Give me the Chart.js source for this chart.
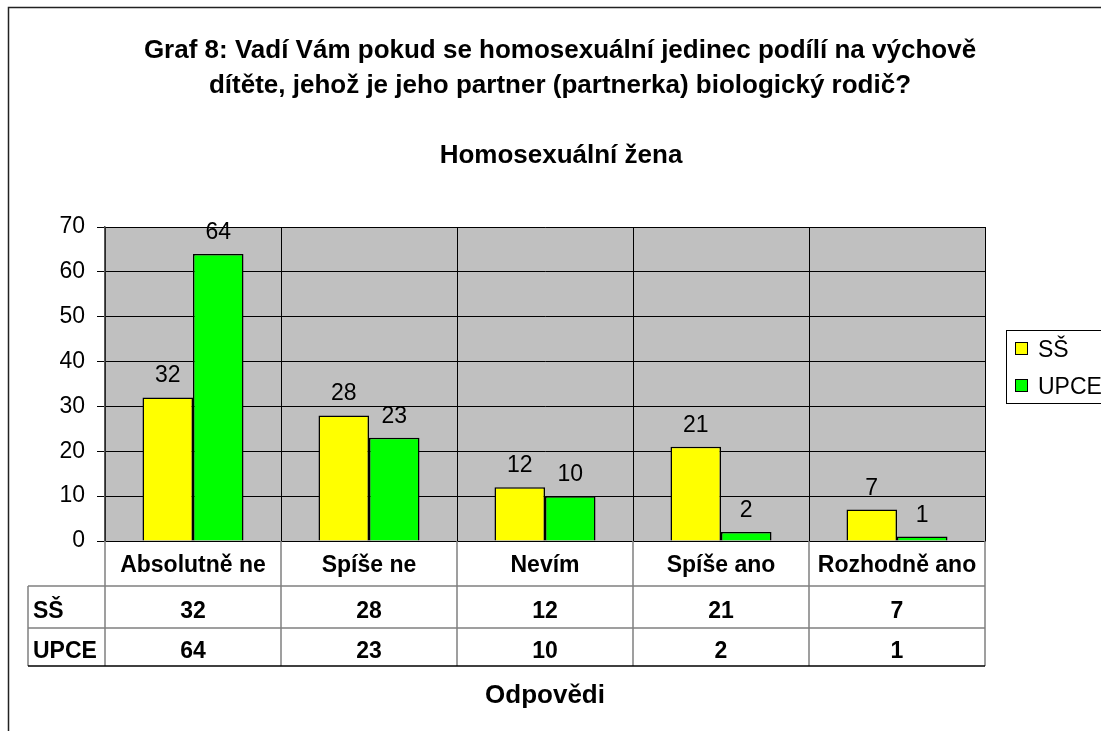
<!DOCTYPE html>
<html>
<head>
<meta charset="utf-8">
<script src="https://cdn.jsdelivr.net/npm/chart.js@4.4.1/dist/chart.umd.min.js"></script>
<style>
  html, body { margin: 0; padding: 0; background: #fff; }
  canvas { display: block; }
</style>
</head>
<body>
<canvas id="c" width="1101" height="731"></canvas>
<script>
const titleLines = ["Graf 8: Vadí Vám pokud se homosexuální jedinec podílí na výchově", "dítěte, jehož je jeho partner (partnerka) biologický rodič?"];
const subtitle = "Homosexuální žena";
const axisTitle = "Odpovědi";
const categories = ["Absolutně ne", "Spíše ne", "Nevím", "Spíše ano", "Rozhodně ano"];
const seriesNames = ["SŠ", "UPCE"];
const valuesSS = [32, 28, 12, 21, 7];
const valuesUPCE = [64, 23, 10, 2, 1];
const yTicks = [0, 10, 20, 30, 40, 50, 60, 70];

const FONT = "'Liberation Sans', Arial, Helvetica, sans-serif";
const colors = ["#ffff00", "#00ff00"];

const PLOT = { left: 105, top: 227, right: 985, bottom: 541 };
const TABLE = { left: 28, row1: 586, row2: 628, bottom: 666 };

const decorPlugin = {
  id: 'decor',
  beforeDraw(chart) {
    const ctx = chart.ctx;
    const ca = chart.chartArea;
    ctx.save();
    ctx.fillStyle = '#ffffff';
    ctx.fillRect(0, 0, chart.width, chart.height);
    // outer chart border
    ctx.strokeStyle = '#222';
    ctx.lineWidth = 1.5;
    ctx.strokeRect(8.5, 7.5, 1200, 800);
    // plot background
    ctx.fillStyle = '#c0c0c0';
    ctx.fillRect(ca.left, ca.top, ca.right - ca.left, ca.bottom - ca.top);
    ctx.restore();
  },
  afterDraw(chart) {
    const ctx = chart.ctx;
    const ca = chart.chartArea;
    const xs = chart.scales.x;
    ctx.save();
    ctx.fillStyle = '#000';
    // titles
    ctx.textAlign = 'center';
    ctx.textBaseline = 'alphabetic';
    ctx.font = 'bold 26px ' + FONT;
    ctx.fillText(titleLines[0], 560, 58);
    ctx.fillText(titleLines[1], 560, 93);
    ctx.fillText(subtitle, 561, 163);
    ctx.fillText(axisTitle, (ca.left + ca.right) / 2, 703);

    // data labels
    ctx.font = '23px ' + FONT;
    chart.data.datasets.forEach((ds, i) => {
      const meta = chart.getDatasetMeta(i);
      meta.data.forEach((bar, j) => {
        ctx.fillText(String(ds.data[j]), bar.x, bar.y - 15);
      });
    });

    // data table
    const n = categories.length;
    const bounds = [];
    for (let i = 0; i <= n; i++) {
      bounds.push(ca.left + (ca.right - ca.left) * i / n);
    }
    ctx.strokeStyle = '#808080';
    ctx.lineWidth = 1.5;
    ctx.beginPath();
    // horizontal lines
    ctx.moveTo(TABLE.left, TABLE.row1); ctx.lineTo(ca.right, TABLE.row1);
    ctx.moveTo(TABLE.left, TABLE.row2); ctx.lineTo(ca.right, TABLE.row2);
    // left edge of header column
    ctx.moveTo(TABLE.left, TABLE.row1); ctx.lineTo(TABLE.left, TABLE.bottom);
    // vertical lines through table
    bounds.forEach(b => { ctx.moveTo(b, ca.bottom); ctx.lineTo(b, TABLE.bottom); });
    ctx.stroke();
    ctx.strokeStyle = '#000';
    ctx.beginPath();
    ctx.moveTo(TABLE.left, TABLE.bottom); ctx.lineTo(ca.right, TABLE.bottom);
    ctx.stroke();

    ctx.font = 'bold 23px ' + FONT;
    ctx.textAlign = 'center';
    categories.forEach((c, i) => {
      const x = xs.getPixelForValue(i);
      ctx.fillText(c, x, 572);
      ctx.fillText(String(valuesSS[i]), x, 618);
      ctx.fillText(String(valuesUPCE[i]), x, 658);
    });
    ctx.textAlign = 'left';
    ctx.fillText(seriesNames[0], 33, 618);
    ctx.fillText(seriesNames[1], 33, 658);

    // legend
    ctx.strokeStyle = '#000';
    ctx.lineWidth = 1;
    ctx.fillStyle = '#fff';
    ctx.fillRect(1006, 330, 200, 73);
    ctx.strokeRect(1006.5, 330.5, 200, 73);
    const legY = [348.5, 385.5];
    ctx.font = '23px ' + FONT;
    seriesNames.forEach((s, i) => {
      ctx.fillStyle = colors[i];
      ctx.fillRect(1015, legY[i] - 6.5, 13, 13);
      ctx.strokeStyle = '#000';
      ctx.strokeRect(1015.5, legY[i] - 6, 12, 12);
      ctx.fillStyle = '#000';
      ctx.textAlign = 'left';
      ctx.fillText(s, 1038, legY[i] + 8);
    });
    ctx.restore();
  }
};

new Chart(document.getElementById('c'), {
  type: 'bar',
  data: {
    labels: categories,
    datasets: [
      { label: seriesNames[0], data: valuesSS, backgroundColor: colors[0], borderColor: '#000', borderWidth: 1.5,
        categoryPercentage: 0.574, barPercentage: 1.0 },
      { label: seriesNames[1], data: valuesUPCE, backgroundColor: colors[1], borderColor: '#000', borderWidth: 1.5,
        categoryPercentage: 0.574, barPercentage: 1.0 }
    ]
  },
  options: {
    responsive: false,
    animation: false,
    devicePixelRatio: 1,
    layout: { padding: { left: 0, top: PLOT.top, right: 1101 - PLOT.right, bottom: 0 } },
    plugins: { legend: { display: false }, title: { display: false }, tooltip: { enabled: false } },
    scales: {
      x: {
        grid: { color: '#000', lineWidth: 1, drawTicks: false, offset: true },
        border: { display: true, color: '#000', width: 1 },
        ticks: { display: false },
        afterFit(scale) { scale.height = 731 - PLOT.bottom; }
      },
      y: {
        min: 0, max: 70,
        afterBuildTicks(scale) { scale.ticks = yTicks.map(v => ({ value: v })); },
        ticks: { color: '#000', font: { family: FONT, size: 23 }, padding: 12 },
        grid: { color: '#000', lineWidth: 1, tickLength: 8, tickColor: '#000' },
        border: { display: true, color: '#555', width: 1.5 },
        afterFit(scale) { scale.width = PLOT.left; }
      }
    }
  },
  plugins: [decorPlugin]
});
</script>
</body>
</html>
